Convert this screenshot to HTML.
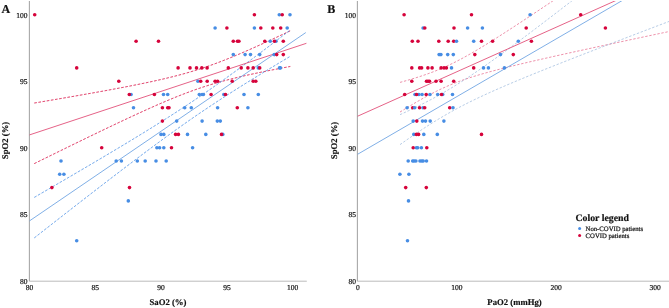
<!DOCTYPE html>
<html><head><meta charset="utf-8"><style>
html,body{margin:0;padding:0;background:#fff;}
body{width:669px;height:308px;overflow:hidden;font-family:"Liberation Serif",serif;}
svg{display:block;}
</style></head><body>
<svg width="669" height="308" viewBox="0 0 669 308" font-family="Liberation Serif, serif" fill="#000" text-rendering="geometricPrecision">
<defs><clipPath id="cl"><rect x="29.5" y="1" width="277.5" height="280"/></clipPath><clipPath id="cr"><rect x="357.4" y="1" width="312" height="280"/></clipPath></defs>
<rect width="669" height="308" fill="#fff"/>
<line x1="29.4" y1="1.0" x2="29.4" y2="281.2" stroke="#a8a8a8" stroke-width="1.1"/>
<line x1="29.4" y1="281.2" x2="306.8" y2="281.2" stroke="#bcbcbc" stroke-width="1.0"/>
<line x1="357.4" y1="1.0" x2="357.4" y2="281.2" stroke="#a8a8a8" stroke-width="1.1"/>
<line x1="357.4" y1="281.2" x2="669" y2="281.2" stroke="#bcbcbc" stroke-width="1.0"/>
<circle cx="579.6" cy="228.6" r="1.5" fill="#478de4"/>
<circle cx="579.6" cy="235.5" r="1.5" fill="#d6033b"/>
<g fill="none"><polyline points="34.30,103.03 35.30,102.86 36.30,102.70 37.30,102.53 38.30,102.36 39.30,102.19 40.30,102.02 41.30,101.85 42.30,101.68 43.30,101.51 44.30,101.34 45.30,101.17 46.30,101.00 47.30,100.83 48.30,100.66 49.30,100.49 50.30,100.32 51.30,100.15 52.30,99.98 53.30,99.81 54.30,99.64 55.30,99.47 56.30,99.30 57.30,99.13 58.30,98.96 59.30,98.78 60.30,98.61 61.30,98.44 62.30,98.27 63.30,98.10 64.30,97.92 65.30,97.75 66.30,97.58 67.30,97.41 68.30,97.23 69.30,97.06 70.30,96.89 71.30,96.71 72.30,96.54 73.30,96.37 74.30,96.19 75.30,96.02 76.30,95.84 77.30,95.67 78.30,95.49 79.30,95.32 80.30,95.14 81.30,94.97 82.30,94.79 83.30,94.62 84.30,94.44 85.30,94.26 86.30,94.09 87.30,93.91 88.30,93.73 89.30,93.56 90.30,93.38 91.30,93.20 92.30,93.02 93.30,92.84 94.30,92.66 95.30,92.49 96.30,92.31 97.30,92.13 98.30,91.95 99.30,91.77 100.30,91.58 101.30,91.40 102.30,91.22 103.30,91.04 104.30,90.86 105.30,90.68 106.30,90.49 107.30,90.31 108.30,90.13 109.30,89.94 110.30,89.76 111.30,89.57 112.30,89.39 113.30,89.20 114.30,89.01 115.30,88.83 116.30,88.64 117.30,88.45 118.30,88.26 119.30,88.08 120.30,87.89 121.30,87.70 122.30,87.51 123.30,87.32 124.30,87.12 125.30,86.93 126.30,86.74 127.30,86.55 128.30,86.35 129.30,86.16 130.30,85.96 131.30,85.76 132.30,85.57 133.30,85.37 134.30,85.17 135.30,84.97 136.30,84.77 137.30,84.57 138.30,84.37 139.30,84.17 140.30,83.96 141.30,83.76 142.30,83.55 143.30,83.35 144.30,83.14 145.30,82.93 146.30,82.72 147.30,82.51 148.30,82.30 149.30,82.09 150.30,81.87 151.30,81.66 152.30,81.44 153.30,81.23 154.30,81.01 155.30,80.79 156.30,80.56 157.30,80.34 158.30,80.12 159.30,79.89 160.30,79.66 161.30,79.43 162.30,79.20 163.30,78.97 164.30,78.74 165.30,78.50 166.30,78.26 167.30,78.03 168.30,77.78 169.30,77.54 170.30,77.30 171.30,77.05 172.30,76.80 173.30,76.55 174.30,76.30 175.30,76.04 176.30,75.78 177.30,75.52 178.30,75.26 179.30,75.00 180.30,74.73 181.30,74.46 182.30,74.19 183.30,73.91 184.30,73.64 185.30,73.36 186.30,73.07 187.30,72.79 188.30,72.50 189.30,72.21 190.30,71.92 191.30,71.62 192.30,71.32 193.30,71.02 194.30,70.71 195.30,70.40 196.30,70.09 197.30,69.78 198.30,69.46 199.30,69.14 200.30,68.82 201.30,68.49 202.30,68.16 203.30,67.83 204.30,67.49 205.30,67.16 206.30,66.81 207.30,66.47 208.30,66.12 209.30,65.77 210.30,65.42 211.30,65.06 212.30,64.70 213.30,64.34 214.30,63.97 215.30,63.61 216.30,63.24 217.30,62.86 218.30,62.49 219.30,62.11 220.30,61.72 221.30,61.34 222.30,60.95 223.30,60.56 224.30,60.17 225.30,59.78 226.30,59.38 227.30,58.98 228.30,58.58 229.30,58.17 230.30,57.77 231.30,57.36 232.30,56.95 233.30,56.54 234.30,56.12 235.30,55.71 236.30,55.29 237.30,54.87 238.30,54.44 239.30,54.02 240.30,53.59 241.30,53.17 242.30,52.74 243.30,52.31 244.30,51.87 245.30,51.44 246.30,51.00 247.30,50.57 248.30,50.13 249.30,49.69 250.30,49.25 251.30,48.80 252.30,48.36 253.30,47.91 254.30,47.47 255.30,47.02 256.30,46.57 257.30,46.12 258.30,45.67 259.30,45.22 260.30,44.76 261.30,44.31 262.30,43.85 263.30,43.40 264.30,42.94 265.30,42.48 266.30,42.02 267.30,41.56 268.30,41.10 269.30,40.64 270.30,40.18 271.30,39.71 272.30,39.25 273.30,38.79 274.30,38.32 275.30,37.85 276.30,37.39 277.30,36.92 278.30,36.45 279.30,35.98 280.30,35.51 281.30,35.04 282.30,34.57 283.30,34.10 284.30,33.63 285.30,33.16 286.30,32.68 287.30,32.21 288.30,31.74 289.30,31.26 290.30,30.79" stroke="#d6033b" stroke-width="1.0" stroke-opacity="0.85" stroke-dasharray="2.6 1.6" clip-path="url(#cl)"/>
<polyline points="34.30,163.59 35.30,163.10 36.30,162.61 37.30,162.11 38.30,161.62 39.30,161.13 40.30,160.63 41.30,160.14 42.30,159.65 43.30,159.16 44.30,158.67 45.30,158.17 46.30,157.68 47.30,157.19 48.30,156.70 49.30,156.21 50.30,155.72 51.30,155.22 52.30,154.73 53.30,154.24 54.30,153.75 55.30,153.26 56.30,152.77 57.30,152.28 58.30,151.79 59.30,151.30 60.30,150.81 61.30,150.32 62.30,149.83 63.30,149.34 64.30,148.85 65.30,148.36 66.30,147.87 67.30,147.39 68.30,146.90 69.30,146.41 70.30,145.92 71.30,145.43 72.30,144.94 73.30,144.46 74.30,143.97 75.30,143.48 76.30,142.99 77.30,142.51 78.30,142.02 79.30,141.53 80.30,141.05 81.30,140.56 82.30,140.08 83.30,139.59 84.30,139.10 85.30,138.62 86.30,138.13 87.30,137.65 88.30,137.16 89.30,136.68 90.30,136.20 91.30,135.71 92.30,135.23 93.30,134.75 94.30,134.26 95.30,133.78 96.30,133.30 97.30,132.82 98.30,132.34 99.30,131.85 100.30,131.37 101.30,130.89 102.30,130.41 103.30,129.93 104.30,129.45 105.30,128.98 106.30,128.50 107.30,128.02 108.30,127.54 109.30,127.06 110.30,126.59 111.30,126.11 112.30,125.63 113.30,125.16 114.30,124.68 115.30,124.21 116.30,123.73 117.30,123.26 118.30,122.79 119.30,122.31 120.30,121.84 121.30,121.37 122.30,120.90 123.30,120.43 124.30,119.96 125.30,119.49 126.30,119.02 127.30,118.55 128.30,118.08 129.30,117.62 130.30,117.15 131.30,116.68 132.30,116.22 133.30,115.76 134.30,115.29 135.30,114.83 136.30,114.37 137.30,113.91 138.30,113.45 139.30,112.99 140.30,112.53 141.30,112.07 142.30,111.62 143.30,111.16 144.30,110.71 145.30,110.25 146.30,109.80 147.30,109.35 148.30,108.90 149.30,108.45 150.30,108.00 151.30,107.56 152.30,107.11 153.30,106.67 154.30,106.23 155.30,105.78 156.30,105.34 157.30,104.91 158.30,104.47 159.30,104.03 160.30,103.60 161.30,103.17 162.30,102.74 163.30,102.31 164.30,101.88 165.30,101.45 166.30,101.03 167.30,100.61 168.30,100.19 169.30,99.77 170.30,99.35 171.30,98.94 172.30,98.52 173.30,98.11 174.30,97.70 175.30,97.30 176.30,96.89 177.30,96.49 178.30,96.09 179.30,95.70 180.30,95.30 181.30,94.91 182.30,94.52 183.30,94.13 184.30,93.75 185.30,93.37 186.30,92.99 187.30,92.61 188.30,92.24 189.30,91.87 190.30,91.50 191.30,91.13 192.30,90.77 193.30,90.41 194.30,90.06 195.30,89.70 196.30,89.35 197.30,89.00 198.30,88.66 199.30,88.32 200.30,87.98 201.30,87.65 202.30,87.31 203.30,86.98 204.30,86.66 205.30,86.33 206.30,86.01 207.30,85.70 208.30,85.38 209.30,85.07 210.30,84.76 211.30,84.46 212.30,84.16 213.30,83.86 214.30,83.56 215.30,83.27 216.30,82.98 217.30,82.69 218.30,82.40 219.30,82.12 220.30,81.84 221.30,81.57 222.30,81.29 223.30,81.02 224.30,80.75 225.30,80.48 226.30,80.22 227.30,79.96 228.30,79.70 229.30,79.44 230.30,79.18 231.30,78.93 232.30,78.68 233.30,78.43 234.30,78.18 235.30,77.94 236.30,77.69 237.30,77.45 238.30,77.21 239.30,76.98 240.30,76.74 241.30,76.51 242.30,76.28 243.30,76.04 244.30,75.82 245.30,75.59 246.30,75.36 247.30,75.14 248.30,74.92 249.30,74.69 250.30,74.47 251.30,74.25 252.30,74.04 253.30,73.82 254.30,73.61 255.30,73.39 256.30,73.18 257.30,72.97 258.30,72.76 259.30,72.55 260.30,72.34 261.30,72.13 262.30,71.93 263.30,71.72 264.30,71.52 265.30,71.31 266.30,71.11 267.30,70.91 268.30,70.71 269.30,70.51 270.30,70.31 271.30,70.11 272.30,69.91 273.30,69.72 274.30,69.52 275.30,69.32 276.30,69.13 277.30,68.94 278.30,68.74 279.30,68.55 280.30,68.36 281.30,68.17 282.30,67.97 283.30,67.78 284.30,67.59 285.30,67.41 286.30,67.22 287.30,67.03 288.30,66.84 289.30,66.65 290.30,66.47" stroke="#d6033b" stroke-width="1.0" stroke-opacity="0.85" stroke-dasharray="2.6 1.6" clip-path="url(#cl)"/>
<polyline points="34.30,197.37 35.30,196.80 36.30,196.22 37.30,195.64 38.30,195.06 39.30,194.48 40.30,193.89 41.30,193.31 42.30,192.73 43.30,192.15 44.30,191.57 45.30,190.99 46.30,190.41 47.30,189.83 48.30,189.25 49.30,188.67 50.30,188.09 51.30,187.50 52.30,186.92 53.30,186.34 54.30,185.76 55.30,185.18 56.30,184.59 57.30,184.01 58.30,183.43 59.30,182.84 60.30,182.26 61.30,181.68 62.30,181.10 63.30,180.51 64.30,179.93 65.30,179.34 66.30,178.76 67.30,178.18 68.30,177.59 69.30,177.01 70.30,176.42 71.30,175.84 72.30,175.25 73.30,174.67 74.30,174.08 75.30,173.50 76.30,172.91 77.30,172.32 78.30,171.74 79.30,171.15 80.30,170.56 81.30,169.98 82.30,169.39 83.30,168.80 84.30,168.22 85.30,167.63 86.30,167.04 87.30,166.45 88.30,165.86 89.30,165.27 90.30,164.68 91.30,164.09 92.30,163.51 93.30,162.92 94.30,162.32 95.30,161.73 96.30,161.14 97.30,160.55 98.30,159.96 99.30,159.37 100.30,158.78 101.30,158.18 102.30,157.59 103.30,157.00 104.30,156.41 105.30,155.81 106.30,155.22 107.30,154.62 108.30,154.03 109.30,153.43 110.30,152.84 111.30,152.24 112.30,151.64 113.30,151.05 114.30,150.45 115.30,149.85 116.30,149.25 117.30,148.66 118.30,148.06 119.30,147.46 120.30,146.86 121.30,146.26 122.30,145.66 123.30,145.05 124.30,144.45 125.30,143.85 126.30,143.25 127.30,142.64 128.30,142.04 129.30,141.43 130.30,140.83 131.30,140.22 132.30,139.62 133.30,139.01 134.30,138.40 135.30,137.79 136.30,137.18 137.30,136.57 138.30,135.96 139.30,135.35 140.30,134.74 141.30,134.13 142.30,133.51 143.30,132.90 144.30,132.28 145.30,131.67 146.30,131.05 147.30,130.44 148.30,129.82 149.30,129.20 150.30,128.58 151.30,127.96 152.30,127.34 153.30,126.71 154.30,126.09 155.30,125.47 156.30,124.84 157.30,124.22 158.30,123.59 159.30,122.96 160.30,122.33 161.30,121.70 162.30,121.07 163.30,120.44 164.30,119.80 165.30,119.17 166.30,118.53 167.30,117.90 168.30,117.26 169.30,116.62 170.30,115.98 171.30,115.34 172.30,114.69 173.30,114.05 174.30,113.40 175.30,112.76 176.30,112.11 177.30,111.46 178.30,110.81 179.30,110.16 180.30,109.50 181.30,108.85 182.30,108.19 183.30,107.54 184.30,106.88 185.30,106.22 186.30,105.56 187.30,104.89 188.30,104.23 189.30,103.56 190.30,102.90 191.30,102.23 192.30,101.56 193.30,100.88 194.30,100.21 195.30,99.54 196.30,98.86 197.30,98.18 198.30,97.50 199.30,96.82 200.30,96.14 201.30,95.46 202.30,94.77 203.30,94.08 204.30,93.40 205.30,92.71 206.30,92.01 207.30,91.32 208.30,90.63 209.30,89.93 210.30,89.24 211.30,88.54 212.30,87.84 213.30,87.14 214.30,86.43 215.30,85.73 216.30,85.02 217.30,84.32 218.30,83.61 219.30,82.90 220.30,82.19 221.30,81.47 222.30,80.76 223.30,80.04 224.30,79.33 225.30,78.61 226.30,77.89 227.30,77.17 228.30,76.45 229.30,75.73 230.30,75.00 231.30,74.28 232.30,73.55 233.30,72.82 234.30,72.10 235.30,71.37 236.30,70.64 237.30,69.90 238.30,69.17 239.30,68.44 240.30,67.70 241.30,66.97 242.30,66.23 243.30,65.49 244.30,64.75 245.30,64.01 246.30,63.27 247.30,62.53 248.30,61.79 249.30,61.05 250.30,60.30 251.30,59.56 252.30,58.81 253.30,58.06 254.30,57.32 255.30,56.57 256.30,55.82 257.30,55.07 258.30,54.32 259.30,53.57 260.30,52.81 261.30,52.06 262.30,51.31 263.30,50.55 264.30,49.80 265.30,49.04 266.30,48.29 267.30,47.53 268.30,46.77 269.30,46.02 270.30,45.26 271.30,44.50 272.30,43.74 273.30,42.98 274.30,42.22 275.30,41.46 276.30,40.70 277.30,39.93 278.30,39.17 279.30,38.41 280.30,37.65 281.30,36.88 282.30,36.12 283.30,35.35 284.30,34.59 285.30,33.82 286.30,33.05 287.30,32.29 288.30,31.52 289.30,30.75 289.50,30.60" stroke="#478de4" stroke-width="1.0" stroke-opacity="0.85" stroke-dasharray="2.6 1.6" clip-path="url(#cl)"/>
<polyline points="34.30,237.88 35.30,237.10 36.30,236.31 37.30,235.53 38.30,234.75 39.30,233.97 40.30,233.18 41.30,232.40 42.30,231.62 43.30,230.83 44.30,230.05 45.30,229.27 46.30,228.49 47.30,227.71 48.30,226.92 49.30,226.14 50.30,225.36 51.30,224.58 52.30,223.80 53.30,223.02 54.30,222.24 55.30,221.45 56.30,220.67 57.30,219.89 58.30,219.11 59.30,218.33 60.30,217.55 61.30,216.77 62.30,215.99 63.30,215.21 64.30,214.43 65.30,213.65 66.30,212.87 67.30,212.09 68.30,211.32 69.30,210.54 70.30,209.76 71.30,208.98 72.30,208.20 73.30,207.42 74.30,206.65 75.30,205.87 76.30,205.09 77.30,204.31 78.30,203.54 79.30,202.76 80.30,201.98 81.30,201.21 82.30,200.43 83.30,199.66 84.30,198.88 85.30,198.11 86.30,197.33 87.30,196.56 88.30,195.78 89.30,195.01 90.30,194.23 91.30,193.46 92.30,192.69 93.30,191.91 94.30,191.14 95.30,190.37 96.30,189.59 97.30,188.82 98.30,188.05 99.30,187.28 100.30,186.51 101.30,185.74 102.30,184.97 103.30,184.20 104.30,183.43 105.30,182.66 106.30,181.89 107.30,181.12 108.30,180.35 109.30,179.58 110.30,178.82 111.30,178.05 112.30,177.28 113.30,176.52 114.30,175.75 115.30,174.99 116.30,174.22 117.30,173.46 118.30,172.69 119.30,171.93 120.30,171.16 121.30,170.40 122.30,169.64 123.30,168.88 124.30,168.12 125.30,167.36 126.30,166.60 127.30,165.84 128.30,165.08 129.30,164.32 130.30,163.56 131.30,162.80 132.30,162.05 133.30,161.29 134.30,160.54 135.30,159.78 136.30,159.03 137.30,158.27 138.30,157.52 139.30,156.77 140.30,156.02 141.30,155.27 142.30,154.52 143.30,153.77 144.30,153.02 145.30,152.27 146.30,151.53 147.30,150.78 148.30,150.03 149.30,149.29 150.30,148.55 151.30,147.80 152.30,147.06 153.30,146.32 154.30,145.58 155.30,144.84 156.30,144.10 157.30,143.37 158.30,142.63 159.30,141.90 160.30,141.16 161.30,140.43 162.30,139.70 163.30,138.97 164.30,138.24 165.30,137.51 166.30,136.78 167.30,136.05 168.30,135.33 169.30,134.61 170.30,133.88 171.30,133.16 172.30,132.44 173.30,131.72 174.30,131.00 175.30,130.29 176.30,129.57 177.30,128.86 178.30,128.15 179.30,127.43 180.30,126.72 181.30,126.02 182.30,125.31 183.30,124.60 184.30,123.90 185.30,123.20 186.30,122.49 187.30,121.79 188.30,121.09 189.30,120.40 190.30,119.70 191.30,119.01 192.30,118.31 193.30,117.62 194.30,116.93 195.30,116.25 196.30,115.56 197.30,114.87 198.30,114.19 199.30,113.51 200.30,112.83 201.30,112.15 202.30,111.47 203.30,110.79 204.30,110.12 205.30,109.44 206.30,108.77 207.30,108.10 208.30,107.43 209.30,106.76 210.30,106.10 211.30,105.43 212.30,104.77 213.30,104.11 214.30,103.45 215.30,102.79 216.30,102.13 217.30,101.48 218.30,100.82 219.30,100.17 220.30,99.52 221.30,98.86 222.30,98.22 223.30,97.57 224.30,96.92 225.30,96.28 226.30,95.63 227.30,94.99 228.30,94.35 229.30,93.71 230.30,93.07 231.30,92.43 232.30,91.79 233.30,91.16 234.30,90.52 235.30,89.89 236.30,89.25 237.30,88.62 238.30,87.99 239.30,87.36 240.30,86.73 241.30,86.11 242.30,85.48 243.30,84.86 244.30,84.23 245.30,83.61 246.30,82.99 247.30,82.36 248.30,81.74 249.30,81.12 250.30,80.50 251.30,79.89 252.30,79.27 253.30,78.65 254.30,78.04 255.30,77.42 256.30,76.81 257.30,76.19 258.30,75.58 259.30,74.97 260.30,74.36 261.30,73.75 262.30,73.14 263.30,72.53 264.30,71.92 265.30,71.31 266.30,70.71 267.30,70.10 268.30,69.49 269.30,68.89 270.30,68.28 271.30,67.68 272.30,67.07 273.30,66.47 274.30,65.87 275.30,65.27 276.30,64.67 277.30,64.06 278.30,63.46 279.30,62.86 280.30,62.26 281.30,61.67 282.30,61.07 283.30,60.47 284.30,59.87 285.30,59.27 286.30,58.68 287.30,58.08 288.30,57.48 289.30,56.89 289.50,56.77" stroke="#478de4" stroke-width="1.0" stroke-opacity="0.85" stroke-dasharray="2.6 1.6" clip-path="url(#cl)"/>
<line x1="29.5" y1="134.9" x2="306.4" y2="43.30148000000001" stroke="#de3a68" stroke-width="0.8" stroke-opacity="1.0"/>
<line x1="29.5" y1="220.9" x2="305.8" y2="32.573920000000015" stroke="#5f9ae0" stroke-width="0.8" stroke-opacity="1.0"/>
<polyline points="400.00,82.39 401.00,82.12 402.00,81.85 403.00,81.57 404.00,81.29 405.00,81.01 406.00,80.72 407.00,80.44 408.00,80.15 409.00,79.86 410.00,79.56 411.00,79.27 412.00,78.97 413.00,78.67 414.00,78.36 415.00,78.06 416.00,77.75 417.00,77.43 418.00,77.12 419.00,76.80 420.00,76.47 421.00,76.15 422.00,75.81 423.00,75.48 424.00,75.14 425.00,74.80 426.00,74.45 427.00,74.10 428.00,73.74 429.00,73.38 430.00,73.02 431.00,72.65 432.00,72.27 433.00,71.89 434.00,71.51 435.00,71.12 436.00,70.72 437.00,70.32 438.00,69.91 439.00,69.50 440.00,69.08 441.00,68.66 442.00,68.23 443.00,67.80 444.00,67.36 445.00,66.91 446.00,66.46 447.00,66.00 448.00,65.54 449.00,65.07 450.00,64.60 451.00,64.12 452.00,63.63 453.00,63.14 454.00,62.65 455.00,62.15 456.00,61.64 457.00,61.13 458.00,60.61 459.00,60.09 460.00,59.56 461.00,59.03 462.00,58.50 463.00,57.96 464.00,57.41 465.00,56.86 466.00,56.31 467.00,55.75 468.00,55.19 469.00,54.62 470.00,54.06 471.00,53.48 472.00,52.91 473.00,52.33 474.00,51.74 475.00,51.16 476.00,50.57 477.00,49.98 478.00,49.38 479.00,48.78 480.00,48.18 481.00,47.58 482.00,46.97 483.00,46.37 484.00,45.76 485.00,45.14 486.00,44.53 487.00,43.91 488.00,43.29 489.00,42.67 490.00,42.05 491.00,41.43 492.00,40.80 493.00,40.17 494.00,39.54 495.00,38.91 496.00,38.28 497.00,37.64 498.00,37.01 499.00,36.37 500.00,35.73 501.00,35.09 502.00,34.45 503.00,33.81 504.00,33.17 505.00,32.52 506.00,31.88 507.00,31.23 508.00,30.58 509.00,29.93 510.00,29.29 511.00,28.63 512.00,27.98 513.00,27.33 514.00,26.68 515.00,26.03 516.00,25.37 517.00,24.72 518.00,24.06 519.00,23.40 520.00,22.75 521.00,22.09 522.00,21.43 523.00,20.77 524.00,20.11 525.00,19.45 526.00,18.79 527.00,18.13 528.00,17.46 529.00,16.80 530.00,16.14 531.00,15.47 532.00,14.81 533.00,14.15 534.00,13.48 535.00,12.81 536.00,12.15 537.00,11.48 538.00,10.82 539.00,10.15 540.00,9.48 541.00,8.81 542.00,8.14 543.00,7.48 544.00,6.81 545.00,6.14 546.00,5.47 547.00,4.80 548.00,4.13 549.00,3.46 550.00,2.78 551.00,2.11 552.00,1.44 553.00,0.77 554.00,0.10 555.00,-0.58 556.00,-1.25 557.00,-1.92 558.00,-2.59 559.00,-3.27 560.00,-3.94 561.00,-4.62 562.00,-5.29 563.00,-5.96 564.00,-6.64 565.00,-7.31 566.00,-7.99 567.00,-8.66 568.00,-9.34 569.00,-10.01 570.00,-10.69 571.00,-11.37 572.00,-12.04 573.00,-12.72 574.00,-13.40 575.00,-14.07 576.00,-14.75 577.00,-15.43 578.00,-16.10 579.00,-16.78 580.00,-17.46 581.00,-18.14 582.00,-18.81 583.00,-19.49 584.00,-20.17 585.00,-20.85 586.00,-21.53 587.00,-22.21 588.00,-22.88 589.00,-23.56 590.00,-24.24 591.00,-24.92 592.00,-25.60 593.00,-26.28 594.00,-26.96 595.00,-27.64 596.00,-28.32 597.00,-29.00 598.00,-29.68 599.00,-30.36 600.00,-31.04 601.00,-31.72 602.00,-32.40 603.00,-33.08 604.00,-33.76 605.00,-34.44 606.00,-35.12 607.00,-35.80 608.00,-36.48 609.00,-37.16 610.00,-37.84 611.00,-38.52 612.00,-39.21 613.00,-39.89 614.00,-40.57 615.00,-41.25 616.00,-41.93 617.00,-42.61 618.00,-43.29 619.00,-43.98 620.00,-44.66 621.00,-45.34 622.00,-46.02 623.00,-46.70 624.00,-47.39 625.00,-48.07 626.00,-48.75 627.00,-49.43 628.00,-50.11 629.00,-50.80 630.00,-51.48 631.00,-52.16 632.00,-52.84 633.00,-53.53 634.00,-54.21 635.00,-54.89 636.00,-55.58 637.00,-56.26 638.00,-56.94 639.00,-57.62 640.00,-58.31 641.00,-58.99 642.00,-59.67 643.00,-60.36 644.00,-61.04 645.00,-61.72 646.00,-62.41 647.00,-63.09 648.00,-63.77 649.00,-64.46 650.00,-65.14 651.00,-65.82 652.00,-66.51 653.00,-67.19 654.00,-67.88 655.00,-68.56 656.00,-69.24 657.00,-69.93 658.00,-70.61 659.00,-71.29 660.00,-71.98 661.00,-72.66 662.00,-73.35 663.00,-74.03 664.00,-74.72 665.00,-75.40 666.00,-76.08 667.00,-76.77 668.00,-77.45 669.00,-78.14" stroke="#d6033b" stroke-width="0.8" stroke-opacity="0.55" stroke-dasharray="2.4 1.7" clip-path="url(#cr)"/>
<polyline points="400.00,112.04 401.00,111.41 402.00,110.79 403.00,110.17 404.00,109.56 405.00,108.94 406.00,108.33 407.00,107.72 408.00,107.11 409.00,106.51 410.00,105.91 411.00,105.31 412.00,104.71 413.00,104.11 414.00,103.52 415.00,102.93 416.00,102.35 417.00,101.76 418.00,101.19 419.00,100.61 420.00,100.04 421.00,99.47 422.00,98.90 423.00,98.34 424.00,97.79 425.00,97.23 426.00,96.68 427.00,96.14 428.00,95.60 429.00,95.07 430.00,94.53 431.00,94.01 432.00,93.49 433.00,92.97 434.00,92.46 435.00,91.96 436.00,91.45 437.00,90.96 438.00,90.47 439.00,89.99 440.00,89.51 441.00,89.03 442.00,88.57 443.00,88.10 444.00,87.65 445.00,87.20 446.00,86.75 447.00,86.31 448.00,85.88 449.00,85.45 450.00,85.03 451.00,84.61 452.00,84.20 453.00,83.80 454.00,83.40 455.00,83.00 456.00,82.61 457.00,82.23 458.00,81.85 459.00,81.48 460.00,81.11 461.00,80.74 462.00,80.38 463.00,80.03 464.00,79.67 465.00,79.33 466.00,78.99 467.00,78.65 468.00,78.31 469.00,77.98 470.00,77.65 471.00,77.33 472.00,77.01 473.00,76.70 474.00,76.38 475.00,76.07 476.00,75.77 477.00,75.46 478.00,75.16 479.00,74.86 480.00,74.57 481.00,74.27 482.00,73.98 483.00,73.70 484.00,73.41 485.00,73.13 486.00,72.85 487.00,72.57 488.00,72.29 489.00,72.01 490.00,71.74 491.00,71.47 492.00,71.20 493.00,70.93 494.00,70.67 495.00,70.40 496.00,70.14 497.00,69.88 498.00,69.61 499.00,69.36 500.00,69.10 501.00,68.84 502.00,68.59 503.00,68.33 504.00,68.08 505.00,67.83 506.00,67.58 507.00,67.33 508.00,67.08 509.00,66.83 510.00,66.59 511.00,66.34 512.00,66.09 513.00,65.85 514.00,65.61 515.00,65.37 516.00,65.12 517.00,64.88 518.00,64.64 519.00,64.40 520.00,64.16 521.00,63.93 522.00,63.69 523.00,63.45 524.00,63.22 525.00,62.98 526.00,62.75 527.00,62.51 528.00,62.28 529.00,62.05 530.00,61.81 531.00,61.58 532.00,61.35 533.00,61.12 534.00,60.89 535.00,60.66 536.00,60.43 537.00,60.20 538.00,59.97 539.00,59.74 540.00,59.51 541.00,59.28 542.00,59.05 543.00,58.83 544.00,58.60 545.00,58.37 546.00,58.15 547.00,57.92 548.00,57.70 549.00,57.47 550.00,57.25 551.00,57.02 552.00,56.80 553.00,56.57 554.00,56.35 555.00,56.13 556.00,55.90 557.00,55.68 558.00,55.46 559.00,55.23 560.00,55.01 561.00,54.79 562.00,54.57 563.00,54.35 564.00,54.13 565.00,53.90 566.00,53.68 567.00,53.46 568.00,53.24 569.00,53.02 570.00,52.80 571.00,52.58 572.00,52.36 573.00,52.14 574.00,51.92 575.00,51.70 576.00,51.48 577.00,51.26 578.00,51.05 579.00,50.83 580.00,50.61 581.00,50.39 582.00,50.17 583.00,49.95 584.00,49.74 585.00,49.52 586.00,49.30 587.00,49.08 588.00,48.87 589.00,48.65 590.00,48.43 591.00,48.21 592.00,48.00 593.00,47.78 594.00,47.56 595.00,47.35 596.00,47.13 597.00,46.92 598.00,46.70 599.00,46.48 600.00,46.27 601.00,46.05 602.00,45.84 603.00,45.62 604.00,45.40 605.00,45.19 606.00,44.97 607.00,44.76 608.00,44.54 609.00,44.33 610.00,44.11 611.00,43.90 612.00,43.68 613.00,43.47 614.00,43.25 615.00,43.04 616.00,42.82 617.00,42.61 618.00,42.40 619.00,42.18 620.00,41.97 621.00,41.75 622.00,41.54 623.00,41.33 624.00,41.11 625.00,40.90 626.00,40.68 627.00,40.47 628.00,40.26 629.00,40.04 630.00,39.83 631.00,39.62 632.00,39.40 633.00,39.19 634.00,38.98 635.00,38.76 636.00,38.55 637.00,38.34 638.00,38.12 639.00,37.91 640.00,37.70 641.00,37.48 642.00,37.27 643.00,37.06 644.00,36.85 645.00,36.63 646.00,36.42 647.00,36.21 648.00,36.00 649.00,35.78 650.00,35.57 651.00,35.36 652.00,35.15 653.00,34.93 654.00,34.72 655.00,34.51 656.00,34.30 657.00,34.09 658.00,33.87 659.00,33.66 660.00,33.45 661.00,33.24 662.00,33.03 663.00,32.81 664.00,32.60 665.00,32.39 666.00,32.18 667.00,31.97 668.00,31.75 669.00,31.54" stroke="#d6033b" stroke-width="0.8" stroke-opacity="0.55" stroke-dasharray="2.4 1.7" clip-path="url(#cr)"/>
<polyline points="400.00,114.67 401.00,114.21 402.00,113.76 403.00,113.30 404.00,112.84 405.00,112.38 406.00,111.92 407.00,111.46 408.00,110.99 409.00,110.52 410.00,110.05 411.00,109.58 412.00,109.10 413.00,108.62 414.00,108.14 415.00,107.66 416.00,107.17 417.00,106.68 418.00,106.19 419.00,105.70 420.00,105.20 421.00,104.70 422.00,104.20 423.00,103.70 424.00,103.19 425.00,102.68 426.00,102.16 427.00,101.64 428.00,101.12 429.00,100.60 430.00,100.07 431.00,99.54 432.00,99.01 433.00,98.47 434.00,97.93 435.00,97.39 436.00,96.84 437.00,96.29 438.00,95.73 439.00,95.17 440.00,94.61 441.00,94.05 442.00,93.48 443.00,92.90 444.00,92.33 445.00,91.75 446.00,91.16 447.00,90.57 448.00,89.98 449.00,89.39 450.00,88.79 451.00,88.19 452.00,87.58 453.00,86.97 454.00,86.36 455.00,85.74 456.00,85.12 457.00,84.50 458.00,83.87 459.00,83.24 460.00,82.61 461.00,81.97 462.00,81.33 463.00,80.69 464.00,80.04 465.00,79.39 466.00,78.74 467.00,78.08 468.00,77.42 469.00,76.76 470.00,76.10 471.00,75.43 472.00,74.76 473.00,74.08 474.00,73.41 475.00,72.73 476.00,72.05 477.00,71.37 478.00,70.68 479.00,69.99 480.00,69.30 481.00,68.61 482.00,67.92 483.00,67.22 484.00,66.52 485.00,65.82 486.00,65.12 487.00,64.41 488.00,63.71 489.00,63.00 490.00,62.29 491.00,61.58 492.00,60.86 493.00,60.15 494.00,59.43 495.00,58.71 496.00,57.99 497.00,57.27 498.00,56.55 499.00,55.82 500.00,55.10 501.00,54.37 502.00,53.64 503.00,52.91 504.00,52.18 505.00,51.45 506.00,50.72 507.00,49.98 508.00,49.25 509.00,48.51 510.00,47.77 511.00,47.03 512.00,46.29 513.00,45.55 514.00,44.81 515.00,44.07 516.00,43.33 517.00,42.58 518.00,41.84 519.00,41.09 520.00,40.34 521.00,39.60 522.00,38.85 523.00,38.10 524.00,37.35 525.00,36.60 526.00,35.85 527.00,35.09 528.00,34.34 529.00,33.59 530.00,32.83 531.00,32.08 532.00,31.32 533.00,30.57 534.00,29.81 535.00,29.06 536.00,28.30 537.00,27.54 538.00,26.78 539.00,26.02 540.00,25.26 541.00,24.50 542.00,23.74 543.00,22.98 544.00,22.22 545.00,21.46 546.00,20.70 547.00,19.93 548.00,19.17 549.00,18.41 550.00,17.64 551.00,16.88 552.00,16.11 553.00,15.35 554.00,14.58 555.00,13.82 556.00,13.05 557.00,12.28 558.00,11.52 559.00,10.75 560.00,9.98 561.00,9.21 562.00,8.45 563.00,7.68 564.00,6.91 565.00,6.14 566.00,5.37 567.00,4.60 568.00,3.83 569.00,3.06 570.00,2.29 571.00,1.52 572.00,0.75 573.00,-0.02 574.00,-0.79 575.00,-1.56 576.00,-2.34 577.00,-3.11 578.00,-3.88 579.00,-4.65 580.00,-5.43 581.00,-6.20 582.00,-6.97 583.00,-7.75 584.00,-8.52 585.00,-9.29 586.00,-10.07 587.00,-10.84 588.00,-11.62 589.00,-12.39 590.00,-13.16 591.00,-13.94 592.00,-14.71 593.00,-15.49 594.00,-16.26 595.00,-17.04 596.00,-17.82 597.00,-18.59 598.00,-19.37 599.00,-20.14 600.00,-20.92 601.00,-21.70 602.00,-22.47 603.00,-23.25 604.00,-24.03 605.00,-24.80 606.00,-25.58 607.00,-26.36 608.00,-27.14 609.00,-27.91 610.00,-28.69 611.00,-29.47 612.00,-30.25 613.00,-31.02 614.00,-31.80 615.00,-32.58 616.00,-33.36 617.00,-34.14 618.00,-34.92 619.00,-35.70 620.00,-36.47 621.00,-37.25 622.00,-38.03 623.00,-38.81 624.00,-39.59 625.00,-40.37 626.00,-41.15 627.00,-41.93 628.00,-42.71 629.00,-43.49 630.00,-44.27 631.00,-45.05 632.00,-45.83 633.00,-46.61 634.00,-47.39 635.00,-48.17 636.00,-48.95 637.00,-49.73 638.00,-50.51 639.00,-51.29 640.00,-52.07 641.00,-52.85 642.00,-53.63 643.00,-54.41 644.00,-55.19 645.00,-55.97 646.00,-56.76 647.00,-57.54 648.00,-58.32 649.00,-59.10 650.00,-59.88 651.00,-60.66 652.00,-61.44 653.00,-62.23 654.00,-63.01 655.00,-63.79 656.00,-64.57 657.00,-65.35 658.00,-66.13 659.00,-66.92 660.00,-67.70 661.00,-68.48 662.00,-69.26 663.00,-70.05 664.00,-70.83 665.00,-71.61 666.00,-72.39 667.00,-73.17 668.00,-73.96 669.00,-74.74" stroke="#7fa6d2" stroke-width="0.8" stroke-opacity="0.7" stroke-dasharray="2.4 1.7" clip-path="url(#cr)"/>
<polyline points="400.00,144.63 401.00,143.92 402.00,143.22 403.00,142.51 404.00,141.81 405.00,141.11 406.00,140.41 407.00,139.71 408.00,139.01 409.00,138.32 410.00,137.63 411.00,136.94 412.00,136.26 413.00,135.57 414.00,134.89 415.00,134.21 416.00,133.53 417.00,132.86 418.00,132.19 419.00,131.52 420.00,130.86 421.00,130.19 422.00,129.53 423.00,128.88 424.00,128.22 425.00,127.57 426.00,126.92 427.00,126.28 428.00,125.64 429.00,125.00 430.00,124.37 431.00,123.73 432.00,123.11 433.00,122.48 434.00,121.86 435.00,121.24 436.00,120.63 437.00,120.02 438.00,119.41 439.00,118.81 440.00,118.21 441.00,117.61 442.00,117.02 443.00,116.43 444.00,115.84 445.00,115.26 446.00,114.68 447.00,114.11 448.00,113.54 449.00,112.97 450.00,112.41 451.00,111.85 452.00,111.29 453.00,110.74 454.00,110.19 455.00,109.65 456.00,109.11 457.00,108.57 458.00,108.03 459.00,107.50 460.00,106.97 461.00,106.45 462.00,105.93 463.00,105.41 464.00,104.89 465.00,104.38 466.00,103.87 467.00,103.36 468.00,102.86 469.00,102.36 470.00,101.86 471.00,101.37 472.00,100.88 473.00,100.39 474.00,99.90 475.00,99.42 476.00,98.94 477.00,98.46 478.00,97.98 479.00,97.51 480.00,97.03 481.00,96.56 482.00,96.10 483.00,95.63 484.00,95.17 485.00,94.71 486.00,94.25 487.00,93.79 488.00,93.33 489.00,92.88 490.00,92.43 491.00,91.98 492.00,91.53 493.00,91.08 494.00,90.64 495.00,90.20 496.00,89.75 497.00,89.31 498.00,88.87 499.00,88.44 500.00,88.00 501.00,87.57 502.00,87.13 503.00,86.70 504.00,86.27 505.00,85.84 506.00,85.41 507.00,84.98 508.00,84.56 509.00,84.13 510.00,83.71 511.00,83.28 512.00,82.86 513.00,82.44 514.00,82.02 515.00,81.60 516.00,81.18 517.00,80.76 518.00,80.35 519.00,79.93 520.00,79.51 521.00,79.10 522.00,78.69 523.00,78.27 524.00,77.86 525.00,77.45 526.00,77.04 527.00,76.63 528.00,76.22 529.00,75.81 530.00,75.40 531.00,75.00 532.00,74.59 533.00,74.18 534.00,73.78 535.00,73.37 536.00,72.97 537.00,72.56 538.00,72.16 539.00,71.76 540.00,71.36 541.00,70.95 542.00,70.55 543.00,70.15 544.00,69.75 545.00,69.35 546.00,68.95 547.00,68.55 548.00,68.15 549.00,67.75 550.00,67.36 551.00,66.96 552.00,66.56 553.00,66.16 554.00,65.77 555.00,65.37 556.00,64.98 557.00,64.58 558.00,64.19 559.00,63.79 560.00,63.40 561.00,63.00 562.00,62.61 563.00,62.21 564.00,61.82 565.00,61.43 566.00,61.04 567.00,60.64 568.00,60.25 569.00,59.86 570.00,59.47 571.00,59.08 572.00,58.69 573.00,58.29 574.00,57.90 575.00,57.51 576.00,57.12 577.00,56.73 578.00,56.34 579.00,55.95 580.00,55.57 581.00,55.18 582.00,54.79 583.00,54.40 584.00,54.01 585.00,53.62 586.00,53.23 587.00,52.85 588.00,52.46 589.00,52.07 590.00,51.68 591.00,51.30 592.00,50.91 593.00,50.52 594.00,50.14 595.00,49.75 596.00,49.36 597.00,48.98 598.00,48.59 599.00,48.20 600.00,47.82 601.00,47.43 602.00,47.05 603.00,46.66 604.00,46.28 605.00,45.89 606.00,45.51 607.00,45.12 608.00,44.74 609.00,44.35 610.00,43.97 611.00,43.59 612.00,43.20 613.00,42.82 614.00,42.43 615.00,42.05 616.00,41.67 617.00,41.28 618.00,40.90 619.00,40.52 620.00,40.13 621.00,39.75 622.00,39.37 623.00,38.98 624.00,38.60 625.00,38.22 626.00,37.84 627.00,37.45 628.00,37.07 629.00,36.69 630.00,36.31 631.00,35.92 632.00,35.54 633.00,35.16 634.00,34.78 635.00,34.40 636.00,34.02 637.00,33.63 638.00,33.25 639.00,32.87 640.00,32.49 641.00,32.11 642.00,31.73 643.00,31.35 644.00,30.96 645.00,30.58 646.00,30.20 647.00,29.82 648.00,29.44 649.00,29.06 650.00,28.68 651.00,28.30 652.00,27.92 653.00,27.54 654.00,27.16 655.00,26.78 656.00,26.40 657.00,26.02 658.00,25.64 659.00,25.26 660.00,24.88 661.00,24.50 662.00,24.12 663.00,23.74 664.00,23.36 665.00,22.98 666.00,22.60 667.00,22.22 668.00,21.84 669.00,21.46" stroke="#7fa6d2" stroke-width="0.8" stroke-opacity="0.7" stroke-dasharray="2.4 1.7" clip-path="url(#cr)"/>
<polyline points="357.40,116.30 669.00,-23.30" stroke="#de3a68" stroke-width="0.8" stroke-opacity="1.0" clip-path="url(#cr)"/>
<polyline points="357.40,154.40 669.00,-26.64" stroke="#5f9ae0" stroke-width="0.8" stroke-opacity="1.0" clip-path="url(#cr)"/></g>
<circle cx="34.7" cy="14.70" r="1.8" fill="#d6033b"/>
<circle cx="254.4" cy="14.70" r="1.8" fill="#d6033b"/>
<circle cx="279.3" cy="14.70" r="1.8" fill="#478de4"/>
<circle cx="282.2" cy="14.70" r="1.8" fill="#d6033b"/>
<circle cx="290.0" cy="14.70" r="1.8" fill="#478de4"/>
<circle cx="215.1" cy="28.00" r="1.8" fill="#478de4"/>
<circle cx="226.9" cy="28.00" r="1.8" fill="#d6033b"/>
<circle cx="254.4" cy="28.00" r="1.8" fill="#478de4"/>
<circle cx="260.8" cy="28.00" r="1.8" fill="#d6033b"/>
<circle cx="272.8" cy="28.00" r="1.8" fill="#d6033b"/>
<circle cx="280.7" cy="28.00" r="1.8" fill="#d6033b"/>
<circle cx="287.2" cy="28.00" r="1.8" fill="#478de4"/>
<circle cx="136.1" cy="41.30" r="1.8" fill="#d6033b"/>
<circle cx="158.5" cy="41.30" r="1.8" fill="#d6033b"/>
<circle cx="233.3" cy="41.30" r="1.8" fill="#d6033b"/>
<circle cx="237.4" cy="41.30" r="1.8" fill="#d6033b"/>
<circle cx="238.9" cy="41.30" r="1.8" fill="#d6033b"/>
<circle cx="264.8" cy="41.30" r="1.8" fill="#d6033b"/>
<circle cx="270.2" cy="41.30" r="1.8" fill="#478de4"/>
<circle cx="276.0" cy="41.30" r="1.8" fill="#478de4"/>
<circle cx="274.4" cy="41.30" r="1.8" fill="#d6033b"/>
<circle cx="283.3" cy="41.30" r="1.8" fill="#d6033b"/>
<circle cx="233.3" cy="54.60" r="1.8" fill="#478de4"/>
<circle cx="245.1" cy="54.60" r="1.8" fill="#478de4"/>
<circle cx="250.5" cy="54.60" r="1.8" fill="#478de4"/>
<circle cx="259.7" cy="54.60" r="1.8" fill="#478de4"/>
<circle cx="274.2" cy="54.60" r="1.8" fill="#478de4"/>
<circle cx="276.7" cy="54.60" r="1.8" fill="#d6033b"/>
<circle cx="283.3" cy="54.60" r="1.8" fill="#d6033b"/>
<circle cx="76.7" cy="67.90" r="1.8" fill="#d6033b"/>
<circle cx="178.1" cy="67.90" r="1.8" fill="#d6033b"/>
<circle cx="190.0" cy="67.90" r="1.8" fill="#d6033b"/>
<circle cx="196.5" cy="67.90" r="1.8" fill="#d6033b"/>
<circle cx="201.8" cy="67.90" r="1.8" fill="#d6033b"/>
<circle cx="207.1" cy="67.90" r="1.8" fill="#d6033b"/>
<circle cx="228.3" cy="67.90" r="1.8" fill="#d6033b"/>
<circle cx="241.2" cy="67.90" r="1.8" fill="#d6033b"/>
<circle cx="247.9" cy="67.90" r="1.8" fill="#d6033b"/>
<circle cx="253.2" cy="67.90" r="1.8" fill="#d6033b"/>
<circle cx="258.3" cy="67.90" r="1.8" fill="#478de4"/>
<circle cx="259.7" cy="67.90" r="1.8" fill="#d6033b"/>
<circle cx="279.5" cy="67.90" r="1.8" fill="#478de4"/>
<circle cx="280.4" cy="67.90" r="1.8" fill="#478de4"/>
<circle cx="118.8" cy="81.20" r="1.8" fill="#d6033b"/>
<circle cx="197.9" cy="81.20" r="1.8" fill="#478de4"/>
<circle cx="200.7" cy="81.20" r="1.8" fill="#d6033b"/>
<circle cx="207.2" cy="81.20" r="1.8" fill="#d6033b"/>
<circle cx="215.1" cy="81.20" r="1.8" fill="#d6033b"/>
<circle cx="217.6" cy="81.20" r="1.8" fill="#d6033b"/>
<circle cx="232.2" cy="81.20" r="1.8" fill="#d6033b"/>
<circle cx="253.2" cy="81.20" r="1.8" fill="#d6033b"/>
<circle cx="255.8" cy="81.20" r="1.8" fill="#d6033b"/>
<circle cx="131.1" cy="94.50" r="1.8" fill="#478de4"/>
<circle cx="129.3" cy="94.50" r="1.8" fill="#d6033b"/>
<circle cx="154.4" cy="94.50" r="1.8" fill="#d6033b"/>
<circle cx="163.5" cy="94.50" r="1.8" fill="#478de4"/>
<circle cx="167.7" cy="94.50" r="1.8" fill="#478de4"/>
<circle cx="199.3" cy="94.50" r="1.8" fill="#478de4"/>
<circle cx="202.1" cy="94.50" r="1.8" fill="#478de4"/>
<circle cx="203.4" cy="94.50" r="1.8" fill="#478de4"/>
<circle cx="211.1" cy="94.50" r="1.8" fill="#d6033b"/>
<circle cx="223.8" cy="94.50" r="1.8" fill="#478de4"/>
<circle cx="225.5" cy="94.50" r="1.8" fill="#d6033b"/>
<circle cx="244.0" cy="94.50" r="1.8" fill="#478de4"/>
<circle cx="258.3" cy="94.50" r="1.8" fill="#478de4"/>
<circle cx="133.5" cy="107.80" r="1.8" fill="#478de4"/>
<circle cx="162.4" cy="107.80" r="1.8" fill="#d6033b"/>
<circle cx="167.7" cy="107.80" r="1.8" fill="#d6033b"/>
<circle cx="169.0" cy="107.80" r="1.8" fill="#d6033b"/>
<circle cx="184.7" cy="107.80" r="1.8" fill="#478de4"/>
<circle cx="191.3" cy="107.80" r="1.8" fill="#478de4"/>
<circle cx="217.6" cy="107.80" r="1.8" fill="#478de4"/>
<circle cx="237.3" cy="107.80" r="1.8" fill="#d6033b"/>
<circle cx="247.9" cy="107.80" r="1.8" fill="#478de4"/>
<circle cx="162.4" cy="121.10" r="1.8" fill="#d6033b"/>
<circle cx="176.7" cy="121.10" r="1.8" fill="#478de4"/>
<circle cx="202.1" cy="121.10" r="1.8" fill="#478de4"/>
<circle cx="217.3" cy="121.10" r="1.8" fill="#478de4"/>
<circle cx="220.3" cy="121.10" r="1.8" fill="#478de4"/>
<circle cx="161.0" cy="134.40" r="1.8" fill="#478de4"/>
<circle cx="163.8" cy="134.40" r="1.8" fill="#478de4"/>
<circle cx="175.6" cy="134.40" r="1.8" fill="#d6033b"/>
<circle cx="178.4" cy="134.40" r="1.8" fill="#d6033b"/>
<circle cx="187.5" cy="134.40" r="1.8" fill="#478de4"/>
<circle cx="205.8" cy="134.40" r="1.8" fill="#478de4"/>
<circle cx="222.8" cy="134.40" r="1.8" fill="#478de4"/>
<circle cx="221.5" cy="134.40" r="1.8" fill="#d6033b"/>
<circle cx="101.7" cy="147.70" r="1.8" fill="#d6033b"/>
<circle cx="156.9" cy="147.70" r="1.8" fill="#478de4"/>
<circle cx="159.6" cy="147.70" r="1.8" fill="#478de4"/>
<circle cx="163.8" cy="147.70" r="1.8" fill="#478de4"/>
<circle cx="171.5" cy="147.70" r="1.8" fill="#d6033b"/>
<circle cx="192.6" cy="147.70" r="1.8" fill="#478de4"/>
<circle cx="61.0" cy="161.00" r="1.8" fill="#478de4"/>
<circle cx="116.2" cy="161.00" r="1.8" fill="#478de4"/>
<circle cx="121.4" cy="161.00" r="1.8" fill="#478de4"/>
<circle cx="137.3" cy="161.00" r="1.8" fill="#478de4"/>
<circle cx="145.2" cy="161.00" r="1.8" fill="#478de4"/>
<circle cx="156.0" cy="161.00" r="1.8" fill="#478de4"/>
<circle cx="166.2" cy="161.00" r="1.8" fill="#478de4"/>
<circle cx="59.7" cy="174.30" r="1.8" fill="#478de4"/>
<circle cx="63.9" cy="174.30" r="1.8" fill="#478de4"/>
<circle cx="51.9" cy="187.60" r="1.8" fill="#d6033b"/>
<circle cx="129.5" cy="187.60" r="1.8" fill="#d6033b"/>
<circle cx="128.3" cy="200.90" r="1.8" fill="#478de4"/>
<circle cx="76.7" cy="240.80" r="1.8" fill="#478de4"/>
<circle cx="404.1" cy="14.70" r="1.8" fill="#d6033b"/>
<circle cx="471.5" cy="14.70" r="1.8" fill="#d6033b"/>
<circle cx="530.1" cy="14.70" r="1.8" fill="#478de4"/>
<circle cx="580.7" cy="14.70" r="1.8" fill="#d6033b"/>
<circle cx="423.1" cy="28.00" r="1.8" fill="#478de4"/>
<circle cx="424.8" cy="28.00" r="1.8" fill="#d6033b"/>
<circle cx="454.0" cy="28.00" r="1.8" fill="#d6033b"/>
<circle cx="467.6" cy="28.00" r="1.8" fill="#478de4"/>
<circle cx="482.4" cy="28.00" r="1.8" fill="#478de4"/>
<circle cx="526.2" cy="28.00" r="1.8" fill="#d6033b"/>
<circle cx="605.4" cy="28.00" r="1.8" fill="#d6033b"/>
<circle cx="412.3" cy="41.30" r="1.8" fill="#d6033b"/>
<circle cx="418.0" cy="41.30" r="1.8" fill="#d6033b"/>
<circle cx="438.8" cy="41.30" r="1.8" fill="#d6033b"/>
<circle cx="448.2" cy="41.30" r="1.8" fill="#d6033b"/>
<circle cx="453.7" cy="41.30" r="1.8" fill="#d6033b"/>
<circle cx="456.5" cy="41.30" r="1.8" fill="#478de4"/>
<circle cx="473.7" cy="41.30" r="1.8" fill="#478de4"/>
<circle cx="481.5" cy="41.30" r="1.8" fill="#d6033b"/>
<circle cx="492.6" cy="41.30" r="1.8" fill="#d6033b"/>
<circle cx="518.3" cy="41.30" r="1.8" fill="#478de4"/>
<circle cx="531.4" cy="41.30" r="1.8" fill="#d6033b"/>
<circle cx="439.1" cy="54.60" r="1.8" fill="#478de4"/>
<circle cx="440.9" cy="54.60" r="1.8" fill="#478de4"/>
<circle cx="447.7" cy="54.60" r="1.8" fill="#478de4"/>
<circle cx="453.3" cy="54.60" r="1.8" fill="#478de4"/>
<circle cx="474.8" cy="54.60" r="1.8" fill="#d6033b"/>
<circle cx="500.5" cy="54.60" r="1.8" fill="#478de4"/>
<circle cx="513.3" cy="54.60" r="1.8" fill="#d6033b"/>
<circle cx="411.8" cy="67.90" r="1.8" fill="#d6033b"/>
<circle cx="419.6" cy="67.90" r="1.8" fill="#d6033b"/>
<circle cx="421.6" cy="67.90" r="1.8" fill="#d6033b"/>
<circle cx="427.9" cy="67.90" r="1.8" fill="#d6033b"/>
<circle cx="432.1" cy="67.90" r="1.8" fill="#d6033b"/>
<circle cx="441.1" cy="67.90" r="1.8" fill="#d6033b"/>
<circle cx="444.0" cy="67.90" r="1.8" fill="#d6033b"/>
<circle cx="446.4" cy="67.90" r="1.8" fill="#d6033b"/>
<circle cx="451.5" cy="67.90" r="1.8" fill="#478de4"/>
<circle cx="473.7" cy="67.90" r="1.8" fill="#d6033b"/>
<circle cx="483.5" cy="67.90" r="1.8" fill="#478de4"/>
<circle cx="488.4" cy="67.90" r="1.8" fill="#478de4"/>
<circle cx="504.4" cy="67.90" r="1.8" fill="#478de4"/>
<circle cx="411.8" cy="81.20" r="1.8" fill="#d6033b"/>
<circle cx="426.5" cy="81.20" r="1.8" fill="#d6033b"/>
<circle cx="428.0" cy="81.20" r="1.8" fill="#d6033b"/>
<circle cx="429.5" cy="81.20" r="1.8" fill="#d6033b"/>
<circle cx="436.0" cy="81.20" r="1.8" fill="#d6033b"/>
<circle cx="441.1" cy="81.20" r="1.8" fill="#d6033b"/>
<circle cx="453.7" cy="81.20" r="1.8" fill="#d6033b"/>
<circle cx="404.7" cy="94.50" r="1.8" fill="#d6033b"/>
<circle cx="415.0" cy="94.50" r="1.8" fill="#478de4"/>
<circle cx="418.9" cy="94.50" r="1.8" fill="#478de4"/>
<circle cx="416.6" cy="94.50" r="1.8" fill="#d6033b"/>
<circle cx="422.1" cy="94.50" r="1.8" fill="#478de4"/>
<circle cx="426.2" cy="94.50" r="1.8" fill="#d6033b"/>
<circle cx="430.0" cy="94.50" r="1.8" fill="#478de4"/>
<circle cx="437.7" cy="94.50" r="1.8" fill="#478de4"/>
<circle cx="442.7" cy="94.50" r="1.8" fill="#478de4"/>
<circle cx="441.5" cy="94.50" r="1.8" fill="#d6033b"/>
<circle cx="452.5" cy="94.50" r="1.8" fill="#478de4"/>
<circle cx="407.1" cy="107.80" r="1.8" fill="#478de4"/>
<circle cx="412.7" cy="107.80" r="1.8" fill="#d6033b"/>
<circle cx="414.7" cy="107.80" r="1.8" fill="#478de4"/>
<circle cx="419.5" cy="107.80" r="1.8" fill="#d6033b"/>
<circle cx="423.0" cy="107.80" r="1.8" fill="#478de4"/>
<circle cx="424.7" cy="107.80" r="1.8" fill="#d6033b"/>
<circle cx="449.7" cy="107.80" r="1.8" fill="#d6033b"/>
<circle cx="453.0" cy="107.80" r="1.8" fill="#478de4"/>
<circle cx="413.2" cy="121.10" r="1.8" fill="#478de4"/>
<circle cx="416.8" cy="121.10" r="1.8" fill="#d6033b"/>
<circle cx="422.5" cy="121.10" r="1.8" fill="#478de4"/>
<circle cx="425.5" cy="121.10" r="1.8" fill="#478de4"/>
<circle cx="430.2" cy="121.10" r="1.8" fill="#478de4"/>
<circle cx="443.9" cy="121.10" r="1.8" fill="#478de4"/>
<circle cx="413.8" cy="134.40" r="1.8" fill="#478de4"/>
<circle cx="416.4" cy="134.40" r="1.8" fill="#d6033b"/>
<circle cx="418.6" cy="134.40" r="1.8" fill="#d6033b"/>
<circle cx="423.8" cy="134.40" r="1.8" fill="#478de4"/>
<circle cx="437.3" cy="134.40" r="1.8" fill="#478de4"/>
<circle cx="481.5" cy="134.40" r="1.8" fill="#d6033b"/>
<circle cx="413.2" cy="147.70" r="1.8" fill="#d6033b"/>
<circle cx="416.4" cy="147.70" r="1.8" fill="#478de4"/>
<circle cx="417.7" cy="147.70" r="1.8" fill="#478de4"/>
<circle cx="421.4" cy="147.70" r="1.8" fill="#478de4"/>
<circle cx="426.8" cy="147.70" r="1.8" fill="#d6033b"/>
<circle cx="408.2" cy="161.00" r="1.8" fill="#478de4"/>
<circle cx="412.7" cy="161.00" r="1.8" fill="#478de4"/>
<circle cx="414.1" cy="161.00" r="1.8" fill="#478de4"/>
<circle cx="415.9" cy="161.00" r="1.8" fill="#478de4"/>
<circle cx="420.0" cy="161.00" r="1.8" fill="#478de4"/>
<circle cx="421.8" cy="161.00" r="1.8" fill="#478de4"/>
<circle cx="423.2" cy="161.00" r="1.8" fill="#478de4"/>
<circle cx="426.5" cy="161.00" r="1.8" fill="#478de4"/>
<circle cx="399.9" cy="174.30" r="1.8" fill="#478de4"/>
<circle cx="408.9" cy="174.30" r="1.8" fill="#478de4"/>
<circle cx="405.7" cy="187.60" r="1.8" fill="#d6033b"/>
<circle cx="426.3" cy="187.60" r="1.8" fill="#d6033b"/>
<circle cx="408.5" cy="200.90" r="1.8" fill="#478de4"/>
<circle cx="407.5" cy="240.80" r="1.8" fill="#478de4"/>
<g fill="#111" style="filter:grayscale(1)"><text x="27.60" y="283.60" text-anchor="end" font-size="7.5" font-weight="normal" stroke="#222" stroke-width="0.22" >80</text>
<text x="356.00" y="283.60" text-anchor="end" font-size="7.5" font-weight="normal" stroke="#222" stroke-width="0.22" >80</text>
<text x="27.60" y="217.10" text-anchor="end" font-size="7.5" font-weight="normal" stroke="#222" stroke-width="0.22" >85</text>
<text x="356.00" y="217.10" text-anchor="end" font-size="7.5" font-weight="normal" stroke="#222" stroke-width="0.22" >85</text>
<text x="27.60" y="150.60" text-anchor="end" font-size="7.5" font-weight="normal" stroke="#222" stroke-width="0.22" >90</text>
<text x="356.00" y="150.60" text-anchor="end" font-size="7.5" font-weight="normal" stroke="#222" stroke-width="0.22" >90</text>
<text x="27.60" y="84.10" text-anchor="end" font-size="7.5" font-weight="normal" stroke="#222" stroke-width="0.22" >95</text>
<text x="356.00" y="84.10" text-anchor="end" font-size="7.5" font-weight="normal" stroke="#222" stroke-width="0.22" >95</text>
<text x="27.60" y="17.60" text-anchor="end" font-size="7.5" font-weight="normal" stroke="#222" stroke-width="0.22" >100</text>
<text x="356.00" y="17.60" text-anchor="end" font-size="7.5" font-weight="normal" stroke="#222" stroke-width="0.22" >100</text>
<text x="29.50" y="290.20" text-anchor="middle" font-size="7.5" font-weight="normal" stroke="#222" stroke-width="0.22" >80</text>
<text x="95.30" y="290.20" text-anchor="middle" font-size="7.5" font-weight="normal" stroke="#222" stroke-width="0.22" >85</text>
<text x="161.10" y="290.20" text-anchor="middle" font-size="7.5" font-weight="normal" stroke="#222" stroke-width="0.22" >90</text>
<text x="226.90" y="290.20" text-anchor="middle" font-size="7.5" font-weight="normal" stroke="#222" stroke-width="0.22" >95</text>
<text x="292.70" y="290.20" text-anchor="middle" font-size="7.5" font-weight="normal" stroke="#222" stroke-width="0.22" >100</text>
<text x="357.80" y="290.20" text-anchor="middle" font-size="7.5" font-weight="normal" stroke="#222" stroke-width="0.22" >0</text>
<text x="456.93" y="290.20" text-anchor="middle" font-size="7.5" font-weight="normal" stroke="#222" stroke-width="0.22" >100</text>
<text x="556.06" y="290.20" text-anchor="middle" font-size="7.5" font-weight="normal" stroke="#222" stroke-width="0.22" >200</text>
<text x="655.19" y="290.20" text-anchor="middle" font-size="7.5" font-weight="normal" stroke="#222" stroke-width="0.22" >300</text>
<text x="168.00" y="305.00" text-anchor="middle" font-size="8.7" font-weight="bold" stroke="#111" stroke-width="0.18" >SaO2 (%)</text>
<text x="514.50" y="305.00" text-anchor="middle" font-size="8.7" font-weight="bold" stroke="#111" stroke-width="0.18" >PaO2 (mmHg)</text>
<text x="0.00" y="0.00" text-anchor="middle" font-size="8.7" font-weight="bold" stroke="#111" stroke-width="0.18" transform="translate(8.1,140.5) rotate(-90)">SpO2 (%)</text>
<text x="0.00" y="0.00" text-anchor="middle" font-size="8.7" font-weight="bold" stroke="#111" stroke-width="0.18" transform="translate(337.1,140.5) rotate(-90)">SpO2 (%)</text>
<text x="1.60" y="13.20" text-anchor="start" font-size="12" font-weight="bold" stroke="#111" stroke-width="0.18" >A</text>
<text x="327.20" y="13.20" text-anchor="start" font-size="12" font-weight="bold" stroke="#111" stroke-width="0.18" >B</text>
<text x="575.50" y="220.60" text-anchor="start" font-size="9.8" font-weight="bold" stroke="#111" stroke-width="0.18" >Color legend</text>
<text x="585.60" y="230.70" text-anchor="start" font-size="6.7" font-weight="normal" stroke="#222" stroke-width="0.22" >Non-COVID patients</text>
<text x="585.60" y="237.80" text-anchor="start" font-size="6.7" font-weight="normal" stroke="#222" stroke-width="0.22" >COVID patients</text></g>
</svg>
</body></html>
